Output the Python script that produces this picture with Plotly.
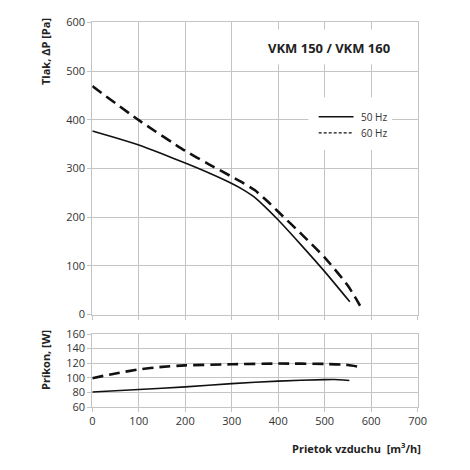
import plotly.graph_objects as go

# --- data ---
flow_p50 = [0, 50, 100, 150, 200, 250, 300, 325, 350, 375, 400, 450, 500, 554]
press_50 = [377, 363, 348, 330, 311, 291, 269, 256, 240, 218, 194, 142, 88, 26]
flow_p60 = [0, 100, 200, 250, 300, 325, 350, 375, 400, 450, 500, 550, 576]
press_60 = [469, 399, 336, 309, 283, 270, 255, 234, 211, 165, 117, 59, 18]

flow_w50 = [0, 100, 200, 300, 400, 500, 520, 553]
power_50 = [80.5, 84, 87.5, 92, 95.5, 97.5, 97.7, 96.3]
flow_w60 = [0, 50, 100, 150, 200, 300, 400, 500, 550, 579]
power_60 = [99.5, 106, 111.5, 115, 117, 118.5, 119.5, 119, 117.5, 114.5]

x_ticks = [0, 100, 200, 300, 400, 500, 600, 700]
p_ticks = [0, 100, 200, 300, 400, 500, 600]
w_ticks = [60, 80, 100, 120, 140, 160]

W, H = 470, 470
OFF = 8  # page body margin
def px(v): return (v - OFF) / W
def py(v): return 1 - (v - OFF) / H

FONT = "Open Sans"
GRID = "#c4c4c4"
TXT = "#333333"

fig = go.Figure()
fig.add_trace(go.Scatter(x=flow_p50, y=press_50, mode="lines", line=dict(color="#111", width=1.6, shape="spline", smoothing=0.6),
                         xaxis="x", yaxis="y", showlegend=False))
fig.add_trace(go.Scatter(x=flow_p60, y=press_60, mode="lines", line=dict(color="#111", width=2.6, dash="11px,6px", shape="spline", smoothing=0.6),
                         xaxis="x", yaxis="y", showlegend=False))
fig.add_trace(go.Scatter(x=flow_w50, y=power_50, mode="lines", line=dict(color="#111", width=1.6, shape="spline", smoothing=0.5),
                         xaxis="x2", yaxis="y2", showlegend=False))
fig.add_trace(go.Scatter(x=flow_w60, y=power_60, mode="lines", line=dict(color="#111", width=2.6, dash="11px,6px", shape="spline", smoothing=0.5),
                         xaxis="x2", yaxis="y2", showlegend=False))

axis_common = dict(showgrid=True, gridcolor=GRID, gridwidth=1, zeroline=False,
                   showline=True, linecolor=GRID, linewidth=1, mirror=True,
                   ticks="outside", ticklen=4, tickcolor=GRID,
                   tickfont=dict(family=FONT, size=11, color=TXT), automargin=False)

xd = [px(92.3), px(417.7)]
fig.update_layout(
    width=W, height=H, margin=dict(l=0, r=0, t=0, b=0),
    paper_bgcolor="white", plot_bgcolor="white",
    font=dict(family=FONT, color=TXT),
    xaxis=dict(domain=xd, range=[0, 700], tickvals=x_ticks, showticklabels=False, anchor="y", **axis_common),
    yaxis=dict(domain=[py(314.5), py(22.3)], range=[0, 600], tickvals=p_ticks, anchor="x", **axis_common),
    xaxis2=dict(domain=xd, range=[0, 700], tickvals=x_ticks, anchor="y2", ticklabelstandoff=0, **axis_common),
    yaxis2=dict(domain=[py(407), py(334)], range=[60, 160], tickvals=w_ticks, anchor="x2", **axis_common),
)

# white boxes behind title and legend (hide gridlines)
fig.add_shape(type="rect", xref="x", yref="y", x0=372, x1=662, y0=514, y1=585,
              fillcolor="white", line=dict(width=0), layer="above")
fig.add_shape(type="rect", xref="x", yref="y", x0=465, x1=645, y0=338, y1=446,
              fillcolor="white", line=dict(width=0), layer="above")
# legend samples
fig.add_shape(type="line", xref="x", yref="y", x0=487, x1=562, y0=406, y1=406,
              line=dict(color="#111", width=1.4), layer="above")
fig.add_shape(type="line", xref="x", yref="y", x0=487, x1=562, y0=373, y1=373,
              line=dict(color="#111", width=1.4, dash="3px,2px"), layer="above")

fig.add_annotation(x=574, y=406, xref="x", yref="y", text="50 Hz", showarrow=False,
                   xanchor="left", yanchor="middle", font=dict(family=FONT, size=10, color=TXT))
fig.add_annotation(x=574, y=373, xref="x", yref="y", text="60 Hz", showarrow=False,
                   xanchor="left", yanchor="middle", font=dict(family=FONT, size=10, color=TXT))
fig.add_annotation(x=509, y=548, xref="x", yref="y", text="<b>VKM 150 / VKM 160</b>", showarrow=False,
                   xanchor="center", yanchor="middle", font=dict(family=FONT, size=13, color="#222"))

# axis titles
fig.add_annotation(x=px(45), y=py(52), xref="paper", yref="paper", text="<b>Tlak, ΔP [Pa]</b>",
                   showarrow=False, textangle=-90, xanchor="center", yanchor="middle",
                   font=dict(family=FONT, size=11, color="#222"))
fig.add_annotation(x=px(45), y=py(360), xref="paper", yref="paper", text="<b>Príkon, [W]</b>",
                   showarrow=False, textangle=-90, xanchor="center", yanchor="middle",
                   font=dict(family=FONT, size=11, color="#222"))
fig.add_annotation(x=px(423), y=py(448), xref="paper", yref="paper",
                   text="<b>Prietok vzduchu  [m<sup>3</sup>/h]</b>",
                   showarrow=False, xanchor="right", yanchor="middle",
                   font=dict(family=FONT, size=11, color="#222"))

fig.write_html("out.html")
